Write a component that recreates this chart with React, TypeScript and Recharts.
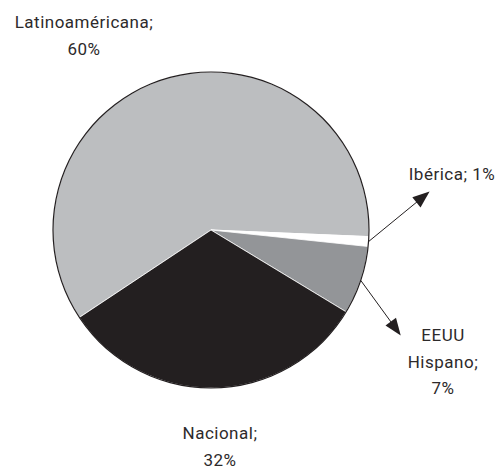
import React from 'react';
import { PieChart, Pie, Cell } from 'recharts';

const categories = ['Latinoaméricana', 'Ibérica', 'EEUU Hispano', 'Nacional'];
const shares = [60, 1, 7, 32];
const labelTexts = [['Latinoaméricana;', '60%'], ['Ibérica; 1%'], ['EEUU', 'Hispano;', '7%'], ['Nacional;', '32%']];
const colors = ['#bcbec0', '#ffffff', '#939598', '#231f20'];

const data = categories.map((name, i) => ({ name, value: shares[i] }));
const outline = [{ name: 'outline', value: 1 }];

// layout: label anchor offsets from pie centre, and arrow vectors (null = no arrow)
const labelOffsets = [
  { dx: -127, dy: -202 },
  { dx: 241, dy: -50 },
  { dx: 232, dy: 111 },
  { dx: 9, dy: 209 },
];
const arrowVectors: ({ x: number; y: number } | null)[] = [null, { x: 61, y: -50 }, { x: 40, y: 55 }, null];
const LINE_H = 26.5;
const RAD = Math.PI / 180;

const renderLabel = (props: any) => {
  const { cx, cy, midAngle, outerRadius, index } = props;
  const off = labelOffsets[index];
  const lines = labelTexts[index];
  const vec = arrowVectors[index];
  let arrow = null;
  if (vec) {
    const sx = cx + outerRadius * Math.cos(-midAngle * RAD);
    const sy = cy + outerRadius * Math.sin(-midAngle * RAD);
    const ex = sx + vec.x;
    const ey = sy + vec.y;
    const len = Math.hypot(vec.x, vec.y);
    const ux = vec.x / len;
    const uy = vec.y / len;
    const hl = 17;
    const hw = 6.5;
    const bx = ex - ux * hl;
    const by = ey - uy * hl;
    const pts = `${ex},${ey} ${bx - uy * hw},${by + ux * hw} ${bx + uy * hw},${by - ux * hw}`;
    arrow = (
      <g>
        <line x1={sx} y1={sy} x2={bx + ux * 2} y2={by + uy * 2} stroke="#231f20" strokeWidth={1} />
        <polygon points={pts} fill="#231f20" />
      </g>
    );
  }
  return (
    <g key={`lbl-${index}`}>
      {arrow}
      {lines.map((t, j) => (
        <text
          key={j}
          x={cx + off.dx}
          y={cy + off.dy + j * LINE_H}
          textAnchor="middle"
          fill="#2d2a2b"
          fontFamily="Roboto, 'Noto Sans', sans-serif"
          fontSize={17}
          letterSpacing={0.5}
        >
          {t}
        </text>
      ))}
    </g>
  );
};

export default function App() {
  return (
    <div style={{ position: 'absolute', left: 0, top: 0, width: 500, height: 468, background: '#fff' }}>
      <PieChart width={500} height={468} margin={{ top: 0, right: 0, bottom: 0, left: 0 }}>
        <Pie
          data={data}
          dataKey="value"
          nameKey="name"
          cx={211}
          cy={230}
          outerRadius={158}
          startAngle={213.6}
          endAngle={-146.4}
          stroke="#ffffff"
          strokeWidth={0.8}
          label={renderLabel}
          labelLine={false}
          isAnimationActive={false}
        >
          {data.map((d, i) => (
            <Cell key={d.name} fill={colors[i]} />
          ))}
        </Pie>
        <Pie
          data={outline}
          dataKey="value"
          cx={211}
          cy={230}
          innerRadius={157.4}
          outerRadius={158.6}
          startAngle={90}
          endAngle={-270}
          fill="#231f20"
          stroke="none"
          isAnimationActive={false}
        />
      </PieChart>
    </div>
  );
}
